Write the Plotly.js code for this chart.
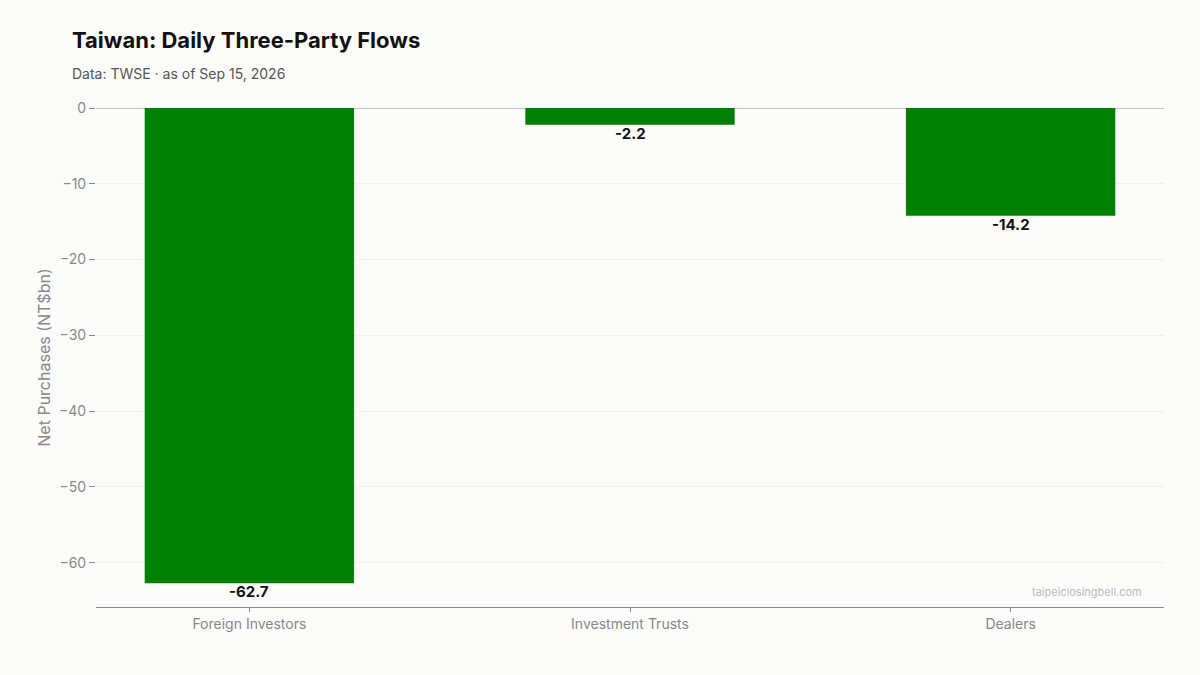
<!DOCTYPE html>
<html>
<head>
<meta charset="utf-8">
<script src="https://cdn.plot.ly/plotly-3.0.1.min.js"></script>
<style>
  html, body { margin: 0; padding: 0; background: #fbfbf9; }
  #plot { width: 1200px; height: 675px; }
</style>
</head>
<body>
<div id="plot"></div>
<script>
// Taiwan three-party institutional flows, NT$bn
const categories = ['Foreign Investors', 'Investment Trusts', 'Dealers'];
const netFlows = [-62.7, -2.2, -14.2];
const yTicks = [0, -10, -20, -30, -40, -50, -60];

const font = 'Inter, "Noto Sans", sans-serif';

const bars = {
  type: 'bar',
  x: categories,
  y: netFlows,
  width: 0.55,
  marker: { color: '#008000' },
  hoverinfo: 'skip',
};

// value labels hang just under each bar end
const valueLabels = categories.map((c, i) => ({
  text: netFlows[i].toFixed(1),
  x: c, y: netFlows[i],
  xref: 'x', yref: 'y',
  yanchor: 'top',
  yshift: 3,
  showarrow: false,
  font: { family: font, size: 15, color: '#111', weight: 'bold' },
}));

const yMin = Math.min(...netFlows) * 1.05;

const layout = {
  width: 1200,
  height: 675,
  paper_bgcolor: '#fbfbf9',
  plot_bgcolor: '#fbfbf9',
  margin: { l: 96, r: 36, t: 108, b: 68 },
  font: { family: font, color: '#888' },
  showlegend: false,
  title: {
    text: 'Taiwan: Daily Three-Party Flows',
    font: { family: font, size: 22, color: '#111', weight: 'bold' },
    xref: 'container', yref: 'container',
    x: 72 / 1200, xanchor: 'left',
    y: 1 - 40 / 675, yanchor: 'middle',
  },
  xaxis: {
    range: [-0.403, 2.403],
    showgrid: false,
    zeroline: false,
    showline: true,
    linecolor: '#888',
    linewidth: 1,
    ticks: 'outside',
    ticklen: 4,
    tickcolor: '#888',
    tickfont: { family: font, size: 14, color: '#888' },
  },
  yaxis: {
    range: [yMin, 0],
    tickvals: yTicks,
    showgrid: true,
    gridcolor: '#f0f0ee',
    zeroline: true,
    zerolinecolor: '#c4c4b8',
    zerolinewidth: 1,
    showline: false,
    ticks: 'outside',
    ticklen: 6,
    tickcolor: '#888',
    tickfont: { family: font, size: 14, color: '#888' },
    title: { text: 'Net Purchases (NT$bn)', font: { family: font, size: 16, color: '#888' }, standoff: 4 },
  },
  annotations: [
    ...valueLabels,
    {
      text: 'Data: TWSE · as of Sep 15, 2026',
      xref: 'paper', yref: 'paper',
      x: -26 / 1068, xanchor: 'left',
      y: 1 + 34 / 499, yanchor: 'middle',
      showarrow: false,
      font: { family: font, size: 14, color: '#555' },
    },
    {
      text: 'taipeiclosingbell.com',
      xref: 'paper', yref: 'paper',
      x: 1 - 20 / 1068, xanchor: 'right',
      y: 15 / 499, yanchor: 'middle',
      showarrow: false,
      font: { family: font, size: 11, color: '#bbb' },
    },
  ],
};

Plotly.newPlot('plot', [bars], layout, { displayModeBar: false, staticPlot: true });
</script>
</body>
</html>
